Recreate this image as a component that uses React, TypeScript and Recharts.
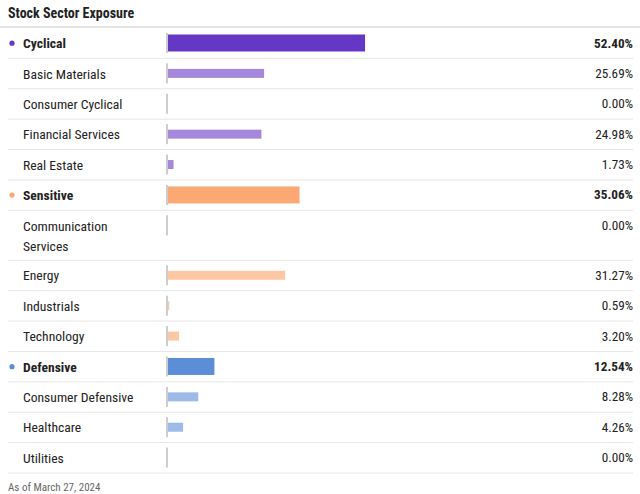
import React from 'react';
import { BarChart, Bar, XAxis, YAxis, CartesianGrid, LabelList } from 'recharts';

const title = 'Stock Sector Exposure';
const footnote = 'As of March 27, 2024';
const groupNames = ['Cyclical', 'Sensitive', 'Defensive'];
const groupColors = ['#6438c4', '#fba874', '#5b8ed7'];
const subColors = ['#a587dc', '#fdc7a3', '#9dbbe7'];
const categories = [
  'Cyclical', 'Basic Materials', 'Consumer Cyclical', 'Financial Services', 'Real Estate',
  'Sensitive', 'Communication Services', 'Energy', 'Industrials', 'Technology',
  'Defensive', 'Consumer Defensive', 'Healthcare', 'Utilities',
];
const values = [52.4, 25.69, 0.0, 24.98, 1.73, 35.06, 0.0, 31.27, 0.59, 3.2, 12.54, 8.28, 4.26, 0.0];
const rowGroup = [0, 0, 0, 0, 0, 1, 1, 1, 1, 1, 2, 2, 2, 2];

const W = 640;
const H = 494;
const FONT = '"Roboto Condensed", Roboto, "Noto Sans", sans-serif';
const WRAP_CHARS = 20;
const EXTRA_LINE = 0.645;

const wrap = (s: string): string[] => {
  if (s.length <= WRAP_CHARS) return [s];
  const i = s.lastIndexOf(' ');
  return [s.slice(0, i), s.slice(i + 1)];
};

const rows = (() => {
  let top = 0;
  return categories.map((name, i) => {
    const lines = wrap(name);
    const h = 1 + (lines.length - 1) * EXTRA_LINE;
    const g = rowGroup[i];
    const isGroup = groupNames.includes(name);
    const r = {
      name,
      lines,
      value: values[i],
      pos: top + 0.5,
      bottom: top + h,
      isGroup,
      color: isGroup ? groupColors[g] : subColors[g],
      dot: groupColors[g],
    };
    top += h;
    return r;
  });
})();
const total = rows[rows.length - 1].bottom;
const centers = rows.map((r) => r.pos);
const boundaries = rows.map((r) => r.bottom);

const LeftTick = (props: any) => {
  const { y, payload } = props;
  const row = rows.find((r) => Math.abs(r.pos - payload.value) < 1e-6);
  if (!row) return null;
  return (
    <g>
      {row.isGroup && <circle cx={12} cy={y} r={2.6} fill={row.dot} />}
      {row.lines.map((ln, k) => (
        <text
          key={k}
          x={23}
          y={y + k * 20}
          dominantBaseline="central"
          fontFamily={FONT}
          fontSize={13.6}
          fontWeight={row.isGroup ? 700 : 400}
          fill="#222"
        >
          {ln}
        </text>
      ))}
    </g>
  );
};

const BarShape = (props: any) => {
  const { x, y, width, height, payload } = props;
  const cy = y + height / 2;
  const h = payload.isGroup ? 17 : 9;
  return (
    <g>
      {width > 0 && <rect x={x} y={cy - h / 2} width={width} height={h} fill={payload.color} />}
      <rect x={x - 1} y={cy - 10} width={2} height={20} fill="#cdcdcd" />
    </g>
  );
};

const ValueLabel = (props: any) => {
  const { y, height, index } = props;
  const row = rows[index];
  return (
    <text
      x={W - 7}
      y={y + height / 2}
      textAnchor="end"
      dominantBaseline="central"
      fontFamily={FONT}
      fontSize={13.2}
      fontWeight={row.isGroup ? 700 : 400}
      fill="#222"
    >
      {row.value.toFixed(2) + '%'}
    </text>
  );
};

export default function App() {
  return (
    <div style={{ position: 'absolute', left: 0, top: 0, width: W, height: H, background: '#fff' }}>
      <BarChart
        width={W}
        height={H}
        data={rows}
        layout="vertical"
        margin={{ top: 28, right: 95, bottom: 21, left: 0 }}
      >
        <CartesianGrid
          horizontal
          vertical={false}
          horizontalValues={boundaries}
          x={8}
          width={625}
          stroke="#e6e6e6"
        />
        <XAxis type="number" domain={[0, 100]} hide />
        <YAxis
          type="number"
          dataKey="pos"
          domain={[0, total]}
          ticks={centers}
          interval={0}
          width={167}
          axisLine={false}
          tickLine={false}
          tick={<LeftTick />}
          allowDataOverflow
        />
        <Bar dataKey="value" barSize={20} shape={<BarShape />} isAnimationActive={false}>
          <LabelList dataKey="value" content={<ValueLabel />} />
        </Bar>
      </BarChart>
      <svg width={W} height={H} style={{ position: 'absolute', left: 0, top: 0, pointerEvents: 'none' }}>
        <text x={8} y={18.3} fontFamily={FONT} fontSize={14} fontWeight={700} fill="#222">
          {title}
        </text>
        <rect x={0} y={26} width={W} height={2} fill="#e4e4e4" />
        <text x={8} y={490.5} fontFamily={FONT} fontSize={11} fill="#666">
          {footnote}
        </text>
      </svg>
    </div>
  );
}
